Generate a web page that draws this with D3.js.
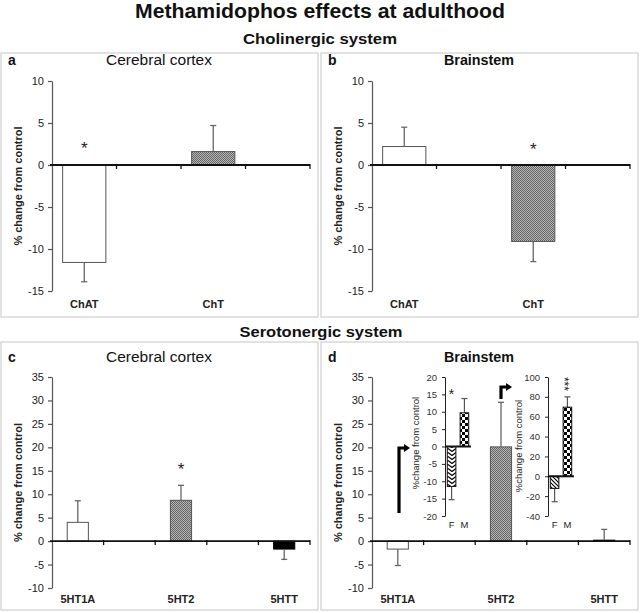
<!DOCTYPE html>
<html><head><meta charset="utf-8">
<script src="https://cdn.jsdelivr.net/npm/d3@7"></script>
<style>body{margin:0;background:#fff}svg{display:block;font-family:"Liberation Sans",Arial,sans-serif}</style>
</head><body><svg id="chart" width="640" height="613"></svg>
<script>
// ---------- data ----------
const cholCategories = ["ChAT", "ChT"];
const cortexCholValues = [-11.6, 1.6];
const cortexCholErrors = [2.3, 3.1];
const brainCholValues = [2.2, -9.1];
const brainCholErrors = [2.3, 2.4];
const cholTicks = [10, 5, 0, -5, -10, -15];

const seroCategories = ["5HT1A", "5HT2", "5HTT"];
const cortexSeroValues = [4.0, 8.7, -1.7];
const cortexSeroErrors = [4.6, 3.2, 2.2];
const brainSeroValues = [-1.7, 20.1, 0.2];
const brainSeroErrors = [3.5, 9.5, 2.3];
const seroTicks = [35, 30, 25, 20, 15, 10, 5, 0, -5, -10];

const sexCategories = ["F", "M"];
const inset5HT1AValues = [-11.5, 9.7];
const inset5HT1AErrors = [3.8, 4.1];
const inset5HT1ATicks = [20, 15, 10, 5, 0, -5, -10, -15, -20];
const inset5HT2Values = [-12.2, 69.6];
const inset5HT2Errors = [13.4, 10.4];
const inset5HT2Ticks = [100, 80, 60, 40, 20, 0, -20, -40];

// significance marks: [category, level, symbol, vertical]
const sigCortexChol = [["ChAT", 2.5, "*"]];
const sigBrainChol = [["ChT", 2.4, "*"]];
const sigCortexSero = [["5HT2", 16.2, "*"]];
const sigInset5HT1A = [["F", 16, "*", false]];
const sigInset5HT2 = [["M", 93, "***", true]];

// ---------- drawing ----------
const svg = d3.select("#chart");
svg.append("rect").attr("width", 640).attr("height", 613).attr("fill", "#fff");
const defs = svg.append("defs");

const pg = defs.append("pattern").attr("id", "grayTex").attr("width", 2).attr("height", 2).attr("patternUnits", "userSpaceOnUse");
pg.append("rect").attr("width", 2).attr("height", 2).attr("fill", "#b8b8b8");
pg.append("rect").attr("width", 1).attr("height", 1).attr("fill", "#626262");
pg.append("rect").attr("x", 1).attr("y", 1).attr("width", 1).attr("height", 1).attr("fill", "#626262");
const pc = defs.append("pattern").attr("id", "checker").attr("width", 6).attr("height", 6).attr("patternUnits", "userSpaceOnUse");
pc.append("rect").attr("width", 6).attr("height", 6).attr("fill", "#fff");
pc.append("rect").attr("width", 3).attr("height", 3).attr("fill", "#000");
pc.append("rect").attr("x", 3).attr("y", 3).attr("width", 3).attr("height", 3).attr("fill", "#000");
const pz = defs.append("pattern").attr("id", "zigzag").attr("width", 8).attr("height", 4).attr("patternUnits", "userSpaceOnUse");
pz.append("rect").attr("width", 8).attr("height", 4).attr("fill", "#fff");
pz.append("path").attr("d", "M0,0.5 L4,3.5 L8,0.5").attr("fill", "none").attr("stroke", "#000").attr("stroke-width", 1.2);
const ph = defs.append("pattern").attr("id", "hatch").attr("width", 4).attr("height", 4).attr("patternUnits", "userSpaceOnUse");
ph.append("rect").attr("width", 4).attr("height", 4).attr("fill", "#fff");
ph.append("path").attr("d", "M-1,-1 L5,5 M-1,3 L1,5 M3,-1 L5,1").attr("stroke", "#000").attr("stroke-width", 1.1);

svg.append("text").attr("x", 320).attr("y", 18).attr("text-anchor", "middle")
  .attr("font-size", 20).attr("font-weight", "bold").attr("fill", "#111")
  .attr("textLength", 370).attr("lengthAdjust", "spacingAndGlyphs")
  .text("Methamidophos effects at adulthood");
svg.append("text").attr("x", 320).attr("y", 43.5).attr("text-anchor", "middle")
  .attr("font-size", 15).attr("font-weight", "bold").attr("fill", "#111")
  .attr("textLength", 154).attr("lengthAdjust", "spacingAndGlyphs")
  .text("Cholinergic system");
svg.append("text").attr("x", 321).attr("y", 336.5).attr("text-anchor", "middle")
  .attr("font-size", 15).attr("font-weight", "bold").attr("fill", "#111")
  .attr("textLength", 163).attr("lengthAdjust", "spacingAndGlyphs")
  .text("Serotonergic system");

[[1, 53, 317, 264], [321, 53, 317, 264], [1, 342, 317, 268], [321, 342, 317, 268]].forEach(b => {
  svg.append("rect").attr("x", b[0]).attr("y", b[1]).attr("width", b[2]).attr("height", b[3])
    .attr("fill", "none").attr("stroke", "#cfcfcf").attr("stroke-width", 1.2);
});

function drawPanel(o) {
  const g = svg.append("g");
  const y = d3.scaleLinear().domain(o.yDomain).range(o.yRange);
  const x = d3.scaleBand().domain(d3.range(o.nSlots)).range([o.x0, o.x1]).padding(0);
  const slotOf = c => o.slotIdx[o.categories.indexOf(c)];
  const bw = x.bandwidth() * o.barFrac;
  const y0 = y(0);

  const ya = g.append("g").attr("transform", `translate(${o.x0},0)`)
    .call(d3.axisLeft(y).tickValues(o.ticks).tickSize(4).tickSizeOuter(0).tickPadding(4).tickFormat(d => String(d)));
  ya.select(".domain").attr("stroke", "#555").attr("stroke-width", 1.2);
  ya.selectAll(".tick line").attr("stroke", "#555").attr("stroke-width", 1.2);
  ya.selectAll(".tick text").attr("font-size", 11).attr("fill", "#222").attr("font-family", "Liberation Sans, Arial, sans-serif");

  o.categories.forEach((c, i) => {
    const v = o.values[i];
    const cx = x(slotOf(c)) + x.bandwidth() / 2;
    g.append("rect").attr("x", cx - bw / 2).attr("width", bw)
      .attr("y", Math.min(y(v), y0)).attr("height", Math.abs(y(v) - y0))
      .attr("fill", o.fills[i]).attr("stroke", o.fills[i] === "#000" ? "#000" : "#555").attr("stroke-width", 1);
    const e = v + Math.sign(v || 1) * o.errors[i];
    g.append("line").attr("x1", cx).attr("x2", cx).attr("y1", y(v)).attr("y2", y(e)).attr("stroke", "#666").attr("stroke-width", 1.3);
    g.append("line").attr("x1", cx - 3).attr("x2", cx + 3).attr("y1", y(e)).attr("y2", y(e)).attr("stroke", "#666").attr("stroke-width", 1.3);
    g.append("text").attr("x", cx).attr("y", o.labelY).attr("text-anchor", "middle")
      .attr("font-size", 11).attr("font-weight", "bold").attr("fill", "#222").text(c);
  });

  g.append("line").attr("x1", o.x0 - 2).attr("x2", o.x1).attr("y1", y0).attr("y2", y0).attr("stroke", "#111").attr("stroke-width", 1.8);
  d3.range(1, o.nSlots + 1).forEach(k => {
    const xx = k < o.nSlots ? x(k) : o.x1;
    g.append("line").attr("x1", xx).attr("x2", xx).attr("y1", y0 - 1).attr("y2", y0 + 4).attr("stroke", "#111").attr("stroke-width", 1.3);
  });

  (o.sig || []).forEach(s => {
    const cx = x(slotOf(s[0])) + x.bandwidth() / 2;
    g.append("text").attr("x", cx).attr("y", y(s[1]) + 10).attr("text-anchor", "middle")
      .attr("font-size", 17).attr("fill", "#222").text(s[2]);
  });

  g.append("text").attr("transform", `translate(${o.px + 22},${(o.yRange[0] + o.yRange[1]) / 2}) rotate(-90)`)
    .attr("text-anchor", "middle").attr("font-size", 11).attr("font-weight", "bold").attr("fill", "#222")
    .text("% change from control");
  g.append("text").attr("x", o.px + 8).attr("y", o.titleY).attr("font-size", 14).attr("font-weight", "bold").attr("fill", "#111").text(o.letter);
  g.append("text").attr("x", o.px + o.titleX).attr("y", o.titleY).attr("text-anchor", "middle")
    .attr("font-size", 14).attr("font-weight", o.titleBold ? "bold" : "normal").attr("fill", "#111")
    .attr("textLength", o.titleLen).attr("lengthAdjust", "spacingAndGlyphs").text(o.title);
}

drawPanel({ px: 0, x0: 52, x1: 310, yDomain: [-15, 10], yRange: [291, 81], ticks: cholTicks,
  categories: cholCategories, values: cortexCholValues, errors: cortexCholErrors, fills: ["#fff", "url(#grayTex)"],
  slotIdx: [0, 2], nSlots: 4, barFrac: 0.67, labelY: 308, sig: sigCortexChol,
  letter: "a", title: "Cerebral cortex", titleBold: false, titleX: 159, titleY: 65, titleLen: 106 });
drawPanel({ px: 320, x0: 372, x1: 630, yDomain: [-15, 10], yRange: [291, 81], ticks: cholTicks,
  categories: cholCategories, values: brainCholValues, errors: brainCholErrors, fills: ["#fff", "url(#grayTex)"],
  slotIdx: [0, 2], nSlots: 4, barFrac: 0.67, labelY: 308, sig: sigBrainChol,
  letter: "b", title: "Brainstem", titleBold: true, titleX: 159, titleY: 65, titleLen: 70 });
drawPanel({ px: 0, x0: 52, x1: 310, yDomain: [-10, 35], yRange: [588, 377], ticks: seroTicks,
  categories: seroCategories, values: cortexSeroValues, errors: cortexSeroErrors, fills: ["#fff", "url(#grayTex)", "#000"],
  slotIdx: [0, 2, 4], nSlots: 5, barFrac: 0.41, labelY: 603, sig: sigCortexSero,
  letter: "c", title: "Cerebral cortex", titleBold: false, titleX: 159, titleY: 362, titleLen: 106 });
drawPanel({ px: 320, x0: 372, x1: 630, yDomain: [-10, 35], yRange: [588, 377], ticks: seroTicks,
  categories: seroCategories, values: brainSeroValues, errors: brainSeroErrors, fills: ["#fff", "url(#grayTex)", "#000"],
  slotIdx: [0, 2, 4], nSlots: 5, barFrac: 0.41, labelY: 603, sig: [],
  letter: "d", title: "Brainstem", titleBold: true, titleX: 159, titleY: 362, titleLen: 70 });

function drawInset(o) {
  const g = svg.append("g");
  const y = d3.scaleLinear().domain(o.yDomain).range([516, 377]);
  const x = d3.scaleBand().domain(sexCategories).range([o.ax + 1, o.ax + 25]).paddingInner(0.33).paddingOuter(0.1);
  const y0 = y(0);
  const ya = g.append("g").attr("transform", `translate(${o.ax},0)`)
    .call(d3.axisLeft(y).tickValues(o.ticks).tickSize(3).tickSizeOuter(0).tickPadding(5).tickFormat(d => String(d)));
  ya.select(".domain").attr("stroke", "#222");
  ya.selectAll(".tick line").attr("stroke", "#222");
  ya.selectAll(".tick text").attr("font-size", 9.5).attr("fill", "#333").attr("font-family", "Liberation Sans, Arial, sans-serif");
  sexCategories.forEach((c, i) => {
    const v = o.values[i];
    const cx = x(c) + x.bandwidth() / 2;
    const e = v + Math.sign(v) * o.errors[i];
    g.append("line").attr("x1", cx).attr("x2", cx).attr("y1", y(v)).attr("y2", y(e)).attr("stroke", "#555").attr("stroke-width", 1.2);
    g.append("line").attr("x1", cx - 3).attr("x2", cx + 3).attr("y1", y(e)).attr("y2", y(e)).attr("stroke", "#555").attr("stroke-width", 1.2);
    g.append("rect").attr("x", x(c)).attr("width", x.bandwidth())
      .attr("y", Math.min(y(v), y0)).attr("height", Math.abs(y(v) - y0))
      .attr("fill", o.fills[i]).attr("stroke", "#111").attr("stroke-width", 1);
    g.append("text").attr("x", cx).attr("y", 528).attr("text-anchor", "middle").attr("font-size", 9.5).attr("fill", "#222").text(c);
  });
  g.append("line").attr("x1", o.ax).attr("x2", o.ax + 26).attr("y1", y0).attr("y2", y0).attr("stroke", "#111").attr("stroke-width", 2);
  g.append("text").attr("transform", `translate(${o.ax - 26},${o.labelCY}) rotate(-90)`)
    .attr("text-anchor", "middle").attr("font-size", 9.5).attr("fill", "#222").text("%change from control");
  o.sig.forEach(s => {
    const cx = x(s[0]) + x.bandwidth() / 2;
    if (s[3]) {
      g.append("text").attr("transform", `translate(${cx - 7},${y(s[1])}) rotate(90)`)
        .attr("text-anchor", "middle").attr("font-size", 12).attr("fill", "#222").text(s[2]);
    } else {
      g.append("text").attr("x", cx).attr("y", y(s[1]) + 8).attr("text-anchor", "middle")
        .attr("font-size", 14).attr("fill", "#222").text(s[2]);
    }
  });
}

drawInset({ ax: 445, yDomain: [-20, 20], ticks: inset5HT1ATicks, values: inset5HT1AValues, errors: inset5HT1AErrors,
  fills: ["url(#zigzag)", "url(#checker)"], labelCY: 443, sig: sigInset5HT1A });
drawInset({ ax: 548, yDomain: [-40, 100], ticks: inset5HT2Ticks, values: inset5HT2Values, errors: inset5HT2Errors,
  fills: ["url(#hatch)", "url(#checker)"], labelCY: 446, sig: sigInset5HT2 });

function arrow(xv, yBottom, yTop, xEnd) {
  svg.append("path").attr("d", `M${xv},${yBottom} L${xv},${yTop} L${xEnd - 5},${yTop}`)
    .attr("fill", "none").attr("stroke", "#000").attr("stroke-width", 3.2);
  svg.append("path").attr("d", `M${xEnd - 6},${yTop - 4} L${xEnd},${yTop} L${xEnd - 6},${yTop + 4} Z`).attr("fill", "#000");
}
arrow(399, 513, 448, 410);
arrow(501, 399, 387, 512);
</script></body></html>
